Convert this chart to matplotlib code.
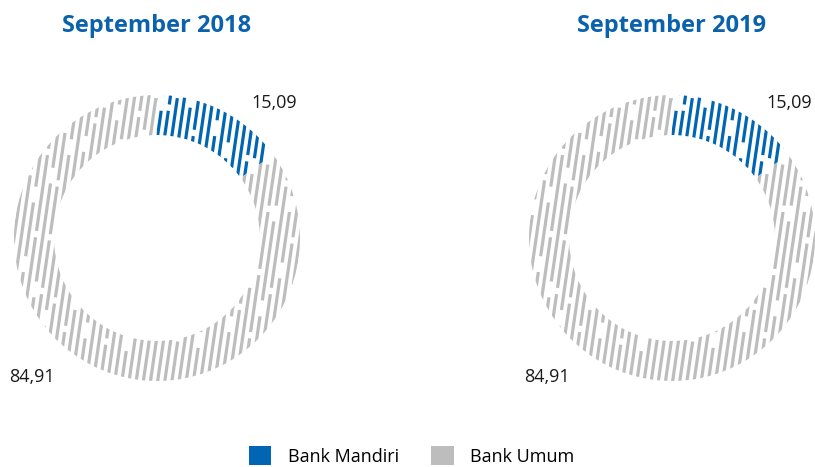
import numpy as np
import matplotlib.pyplot as plt
from matplotlib.patches import Patch

plt.rcParams["font.family"] = ["Open Sans", "DejaVu Sans"]

# data
titles = ["September 2018", "September 2019"]
series = ["Bank Mandiri", "Bank Umum"]
shares = [[15.09, 84.91], [15.09, 84.91]]
labels = [["15,09", "84,91"], ["15,09", "84,91"]]
colors = ["#0066b3", "#bdbdbd"]

W, H = 815, 467
fig = plt.figure(figsize=(W / 100, H / 100), dpi=100)

centers = [(157, 238), (672, 238)]
R = 143  # outer radius in px


def sketch_fill(ax, wedge, color):
    # rough diagonal strokes clipped to the wedge, drawn like a hand sketch
    xs = np.arange(-1.25, 1.25, 0.05)
    for i, x0 in enumerate(xs):
        ln, = ax.plot([x0 - 0.16, x0 + 0.16], [-1.1, 1.1], color=color,
                      lw=2.3, solid_capstyle="butt")
        ln.set_dashes([14 + (i * 7) % 23, 2 + (i * 3) % 6])
        ln.set_dash_capstyle("butt")
        ln.set_clip_path(wedge)


for k, (cx, cy) in enumerate(centers):
    ax = fig.add_axes([(cx - R) / W, (H - cy - R) / H, 2 * R / W, 2 * R / H])
    wedges, _ = ax.pie(shares[k], startangle=90, counterclock=False,
                       radius=1.0, wedgeprops=dict(width=0.28, linewidth=0,
                                                   facecolor="none"))
    for w, c in zip(wedges, colors):
        sketch_fill(ax, w, c)
    ax.set_xlim(-1, 1)
    ax.set_ylim(-1, 1)
    ax.axis("off")

    fig.text(cx / W, 1 - 26 / H, titles[k], ha="center", va="center",
             fontsize=17, fontweight="bold", color="#0a62ad")
    fig.text((cx + 117) / W, 1 - 103 / H, labels[k][0], ha="center",
             va="center", fontsize=13, color="#1a1a1a")
    fig.text((cx - 125) / W, 1 - 377 / H, labels[k][1], ha="center",
             va="center", fontsize=13, color="#1a1a1a")

handles = [Patch(facecolor=c, edgecolor="none") for c in colors]
fig.legend(handles, series, loc="center", bbox_to_anchor=(0.505, 1 - 456 / H),
           ncol=2, frameon=False, fontsize=13, handlelength=1.25,
           handleheight=1.25, columnspacing=1.8, handletextpad=0.9)

fig.savefig("out.png", dpi=100)
